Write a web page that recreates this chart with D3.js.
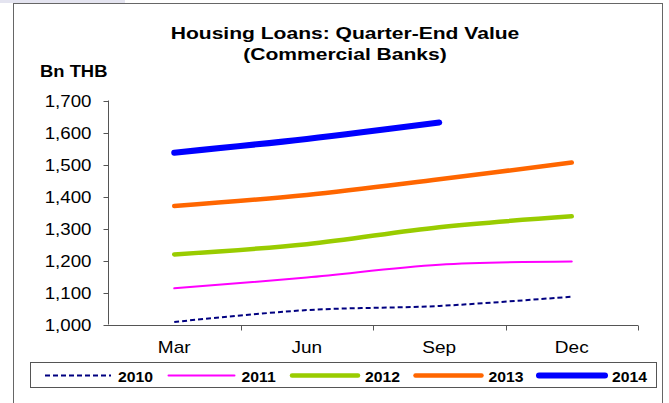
<!DOCTYPE html>
<html lang="en">
<head>
<meta charset="UTF-8">
<script src="https://cdn.jsdelivr.net/npm/d3@7"></script>
<title>Housing Loans</title>
<style>
  body { margin: 0; background: #fff; }
  text { font-family: "Liberation Sans", Arial, sans-serif; fill: #000; }
</style>
</head>
<body>
<div id="chart"></div>
<script>
    // data
    const quarters = ["Mar", "Jun", "Sep", "Dec"];
    const years = ["2010", "2011", "2012", "2013", "2014"];
    const y2010 = [1008, 1045, 1058, 1087];
    const y2011 = [1113, 1147, 1187, 1197];
    const y2012 = [1219, 1251, 1304, 1338];
    const y2013 = [1370, 1405, 1454, 1506];
    const y2014 = [1537, 1580, 1631];
    const yTicks = [1000, 1100, 1200, 1300, 1400, 1500, 1600, 1700];

    const seriesValues = [y2010, y2011, y2012, y2013, y2014];
    const styles = {
        "2010": { color: "#000080", width: 2, dash: "5,3" },
        "2011": { color: "#ff00ff", width: 2, dash: null },
        "2012": { color: "#99cc00", width: 4.5, dash: null },
        "2013": { color: "#ff6600", width: 4.5, dash: null },
        "2014": { color: "#0000ff", width: 6, dash: null }
    };

    const W = 669, H = 403;
    const svg = d3.select("#chart").append("svg")
        .attr("width", W).attr("height", H);

    // little tab at top-left + outer frame
    svg.append("rect").attr("x", 0).attr("y", 0).attr("width", 125).attr("height", 3)
        .attr("fill", "#e4e4f0");
    svg.append("rect").attr("x", 13.5).attr("y", 3.5).attr("width", 649).attr("height", 420)
        .attr("fill", "none").attr("stroke", "#666").attr("stroke-width", 1);

    // stretched text helper (the picture's text is a bit wide)
    function label(g, str, x, y, opts) {
        const t = g.append("text")
            .attr("transform", `translate(${x},${y}) scale(${opts.sx || 1},1)`)
            .attr("text-anchor", opts.anchor || "start")
            .style("font-size", opts.size + "px")
            .style("font-weight", opts.bold ? "bold" : "normal")
            .text(str);
        return t;
    }

    label(svg, "Housing Loans: Quarter-End Value", 345, 39, { size: 17, bold: true, sx: 1.24, anchor: "middle" });
    label(svg, "(Commercial Banks)", 345, 60, { size: 17, bold: true, sx: 1.24, anchor: "middle" });
    label(svg, "Bn THB", 40, 77, { size: 16, bold: true, sx: 1.15 });

    const x = d3.scaleBand().domain(quarters).range([108, 638]).padding(0);
    const y = d3.scaleLinear().domain([1000, 1700]).range([324.5, 100.5]);
    const cx = q => x(q) + x.bandwidth() / 2;

    // y axis
    const yAxis = svg.append("g").attr("transform", "translate(108.5,0)");
    yAxis.append("line").attr("y1", y(1000)).attr("y2", y(1700))
        .attr("stroke", "#555");
    yTicks.forEach(v => {
        yAxis.append("line").attr("x1", -5).attr("x2", 0)
            .attr("y1", Math.round(y(v)) + 0.5).attr("y2", Math.round(y(v)) + 0.5)
            .attr("stroke", "#555");
        label(yAxis, d3.format(",")(v), -17, y(v) + 6, { size: 17, sx: 1.1, anchor: "end" });
    });

    // x axis
    const xAxis = svg.append("g").attr("transform", `translate(0,${Math.round(y(1000)) + 0.5})`);
    xAxis.append("line").attr("x1", 108).attr("x2", 638).attr("stroke", "#555");
    quarters.concat([null]).forEach((q, i) => {
        const px = Math.round(q ? x(q) : x.range()[1]) + 0.5;
        if (i > 0) {
            xAxis.append("line").attr("x1", px).attr("x2", px)
                .attr("y1", 0).attr("y2", 5).attr("stroke", "#555");
        }
    });
    quarters.forEach(q => {
        label(xAxis, q, cx(q), 27, { size: 17, sx: 1.12, anchor: "middle" });
    });

    // lines
    const line = d3.line()
        .x((d, i) => cx(quarters[i]))
        .y(d => y(d))
        .curve(d3.curveCatmullRom.alpha(0.5));

    years.forEach((yr, i) => {
        const s = styles[yr];
        svg.append("path")
            .datum(seriesValues[i])
            .attr("fill", "none")
            .attr("stroke", s.color)
            .attr("stroke-width", s.width)
            .attr("stroke-linecap", s.dash ? "butt" : "round")
            .attr("stroke-dasharray", s.dash)
            .attr("d", line);
    });

    // legend
    const legend = svg.append("g");
    legend.append("rect").attr("x", 30.5).attr("y", 362.5).attr("width", 626).attr("height", 25)
        .attr("fill", "#fff").attr("stroke", "#555");
    years.forEach((yr, i) => {
        const s = styles[yr];
        const lx = 45 + i * 123.5;
        legend.append("line")
            .attr("x1", lx).attr("x2", lx + 66).attr("y1", 375.5).attr("y2", 375.5)
            .attr("stroke", s.color)
            .attr("stroke-width", s.width)
            .attr("stroke-dasharray", s.dash)
            .attr("stroke-linecap", s.dash ? "butt" : "round");
        label(legend, yr, lx + 73, 381.5, { size: 15, bold: true, sx: 1.05 });
    });
</script>
</body>
</html>
